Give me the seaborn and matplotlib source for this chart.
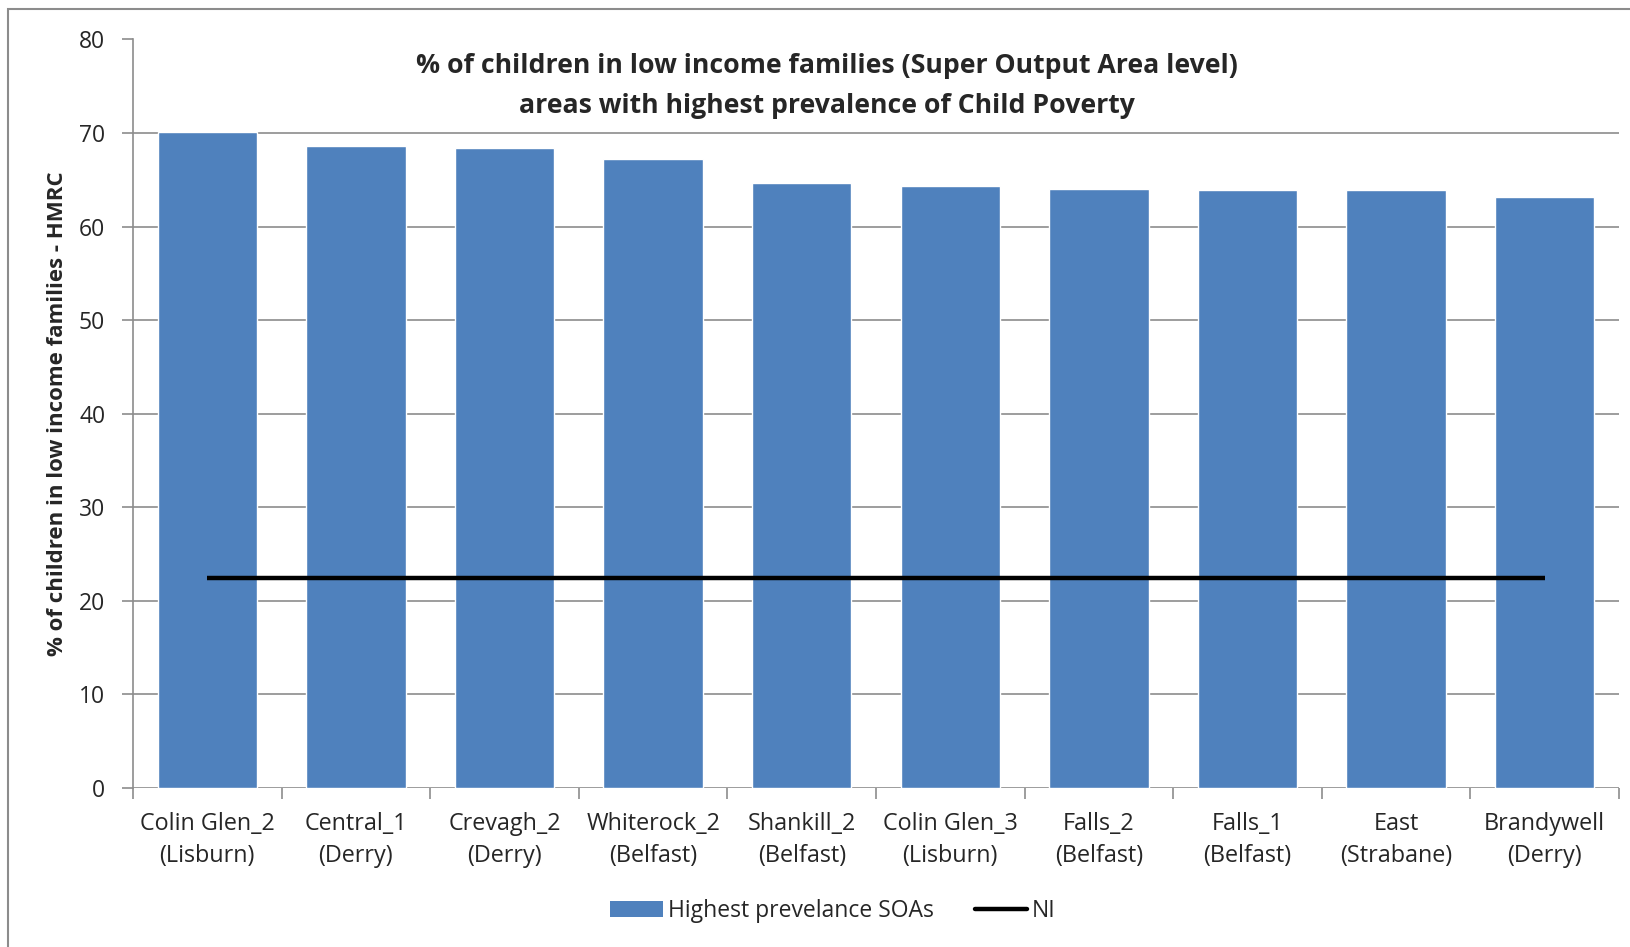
import numpy as np
import pandas as pd
import matplotlib
matplotlib.use("Agg")
import matplotlib.pyplot as plt
import seaborn as sns
from matplotlib.lines import Line2D
from matplotlib.patches import Patch, Rectangle

# Chart data
areas = ["Colin Glen_2\n(Lisburn)", "Central_1\n(Derry)", "Crevagh_2\n(Derry)",
         "Whiterock_2\n(Belfast)", "Shankill_2\n(Belfast)", "Colin Glen_3\n(Lisburn)",
         "Falls_2\n(Belfast)", "Falls_1\n(Belfast)", "East\n(Strabane)", "Brandywell\n(Derry)"]
soa_values = [70.1, 68.6, 68.4, 67.2, 64.7, 64.3, 64.0, 63.9, 63.9, 63.2]
ni_values = [22.4] * len(areas)
y_ticks = [0, 10, 20, 30, 40, 50, 60, 70, 80]

sns.set_theme(style="white")
plt.rcParams['font.family'] = ['Open Sans', 'DejaVu Sans']

df = pd.DataFrame({"area": areas, "value": soa_values, "ni": ni_values})

fig = plt.figure(figsize=(16.31, 9.47), dpi=100)
ax = fig.add_axes([133 / 1631, 1 - 788 / 947, (1619 - 133) / 1631, (788 - 39.5) / 947])

sns.barplot(data=df, x="area", y="value", color="#4F81BD", width=0.67,
            saturation=1, ax=ax)
ax.plot(np.arange(len(areas)), df["ni"], color="black", linewidth=3.2, solid_capstyle="butt")

ax.set_xlim(-0.5, len(areas) - 0.5)
ax.set_ylim(0, 80)
ax.set_yticks(y_ticks)
ax.yaxis.grid(True, color="#8C8C8C", linewidth=1.2)
ax.set_axisbelow(True)
for s in ["top", "right", "bottom"]:
    ax.spines[s].set_visible(False)
ax.spines["left"].set_color("#8C8C8C")
ax.spines["left"].set_linewidth(1.2)

# category boundary ticks on x axis
ax.set_xticks(np.arange(-0.5, len(areas)), minor=True)
ax.tick_params(axis="x", which="minor", length=8, color="#8C8C8C", width=1.2, bottom=True)
ax.tick_params(axis="x", which="major", length=0, pad=17, labelsize=16.8)
for lbl in ax.get_xticklabels():
    lbl.set_linespacing(1.45)
ax.tick_params(axis="y", which="major", length=8, color="#8C8C8C", width=1.2, left=True,
               pad=12, labelsize=16.5)
ax.set_xlabel("")
ax.set_ylabel("% of children in low income families - HMRC", fontsize=16,
              fontweight="bold", labelpad=8)

ax.text(0.467, 0.982, "% of children in low income families (Super Output Area level)\n"
        "areas with highest prevalence of Child Poverty",
        transform=ax.transAxes, ha="center", va="top", fontsize=19.2,
        fontweight="bold", linespacing=1.68)

handles = [Patch(facecolor="#4F81BD", edgecolor="none"),
           Line2D([0], [0], color="black", linewidth=3.2)]
fig.legend(handles, ["Highest prevelance SOAs", "NI"], loc="center",
           bbox_to_anchor=(833 / 1631, 1 - 911 / 947), ncol=2, frameon=False,
           fontsize=16.5, handlelength=2.3, handletextpad=0.2, columnspacing=1.8)

fig.patches.append(Rectangle((0.005, -0.01), 1.2, 1.0, transform=fig.transFigure,
                             fill=False, edgecolor="#8C8C8C", linewidth=1.5))

fig.savefig("out.png", dpi=100)
plt.close(fig)
